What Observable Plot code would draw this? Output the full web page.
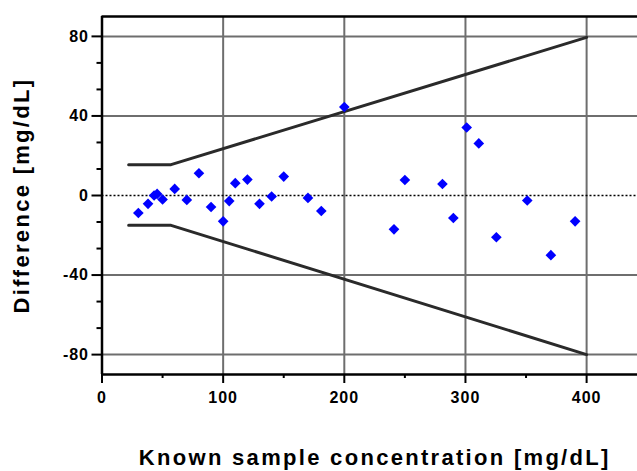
<!DOCTYPE html>
<html><head><meta charset="utf-8">
<script src="https://cdn.jsdelivr.net/npm/d3@7"></script>
<script src="https://cdn.jsdelivr.net/npm/@observablehq/plot@0.6"></script>
<style>body{margin:0;background:#fff}</style>
</head><body><div id="chart"></div>
<script>
const conc = [30, 38, 43, 45.5, 50, 60, 70, 80, 90, 100, 105, 110, 120, 130, 140, 150, 170, 181, 200, 241, 250, 281, 290, 301, 311, 325.5, 351, 370.5, 390.5];
const diff = [-8.8, -4.2, 0, 0.8, -2, 3.3, -2.2, 11.2, -5.8, -13, -2.8, 6.2, 8, -4.2, -0.5, 9.5, -1.2, -7.8, 44.5, -17, 7.8, 5.8, -11.3, 34.2, 26.2, -21, -2.5, -30, -13];
const limitX = [22, 57, 400];
const upperLimit = [15.5, 15.5, 79.5];
const lowerLimit = [-15, -15, -80];
const xTicks = [0, 100, 200, 300, 400];
const xMinorTicks = [50, 150, 250, 350];
const yTicks = [-80, -40, 0, 40, 80];
const yMinorTicks = [-66.67, -53.33, -26.67, -13.33, 13.33, 26.67, 53.33, 66.67];
const xGrid = [100, 200, 300, 400];
const yGrid = [-80, -40, 40, 80];
const xLabel = "Known sample concentration [mg/dL]";
const yLabel = "Difference [mg/dL]";

const points = conc.map((c, i) => ({x: c, y: diff[i]}));
const upper = limitX.map((x, i) => ({x, y: upperLimit[i]}));
const lower = limitX.map((x, i) => ({x, y: lowerLimit[i]}));

const chart = Plot.plot({
  width: 637,
  height: 471,
  marginLeft: 101.5,
  marginRight: 0,
  marginTop: 16,
  marginBottom: 97,
  style: {fontFamily: "'Liberation Sans', Arial, sans-serif", fontWeight: "bold", fontSize: "16px", color: "black", background: "white"},
  x: {domain: [0, 442]},
  y: {domain: [-90, 90]},
  marks: [
    Plot.ruleX(xGrid, {stroke: "#6e6e6e", strokeWidth: 2}),
    Plot.ruleY(yGrid, {stroke: "#6e6e6e", strokeWidth: 2}),
    Plot.ruleY([0], {stroke: "black", strokeWidth: 1.5, strokeDasharray: "2,2"}),
    Plot.line(upper, {x: "x", y: "y", stroke: "#2a2a2a", strokeWidth: 3}),
    Plot.line(lower, {x: "x", y: "y", stroke: "#2a2a2a", strokeWidth: 3}),
    Plot.dot(points, {x: "x", y: "y", symbol: "diamond2", r: 4.8, fill: "#0000ff", stroke: "none"}),
    Plot.ruleY([90], {stroke: "black", strokeWidth: 2.5}),
    Plot.ruleY([-90], {stroke: "black", strokeWidth: 2.5}),
    Plot.ruleX([0], {stroke: "black", strokeWidth: 2.5}),
    Plot.axisX(xTicks, {tickSize: 9, tickPadding: 8, strokeWidth: 2, tickFormat: d => String(d), label: null}),
    Plot.axisX(xMinorTicks, {tickSize: 4, strokeWidth: 2, tickFormat: () => "", label: null}),
    Plot.axisY(yTicks, {tickSize: 10, tickPadding: 3, strokeWidth: 2, tickFormat: d => String(d), label: null}),
    Plot.axisY(yMinorTicks, {tickSize: 5, strokeWidth: 2, tickFormat: () => "", label: null}),
    Plot.text([xLabel], {frameAnchor: "bottom", dy: 83, dx: 5, fontSize: 22, fontWeight: "bold", fill: "black", textAnchor: "middle", lineAnchor: "middle"}),
    Plot.text([yLabel], {frameAnchor: "left", dx: -80, rotate: -90, fontSize: 22, fontWeight: "bold", fill: "black", textAnchor: "middle", lineAnchor: "middle"})
  ]
});
document.getElementById("chart").appendChild(chart);
chart.querySelectorAll('g[aria-label="text"] text').forEach(t => t.setAttribute("letter-spacing", "2.3px"));
chart.querySelectorAll('g[aria-label="x-axis tick label"] text, g[aria-label="y-axis tick label"] text').forEach(t => t.setAttribute("letter-spacing", "1px"));
</script>
</body></html>
